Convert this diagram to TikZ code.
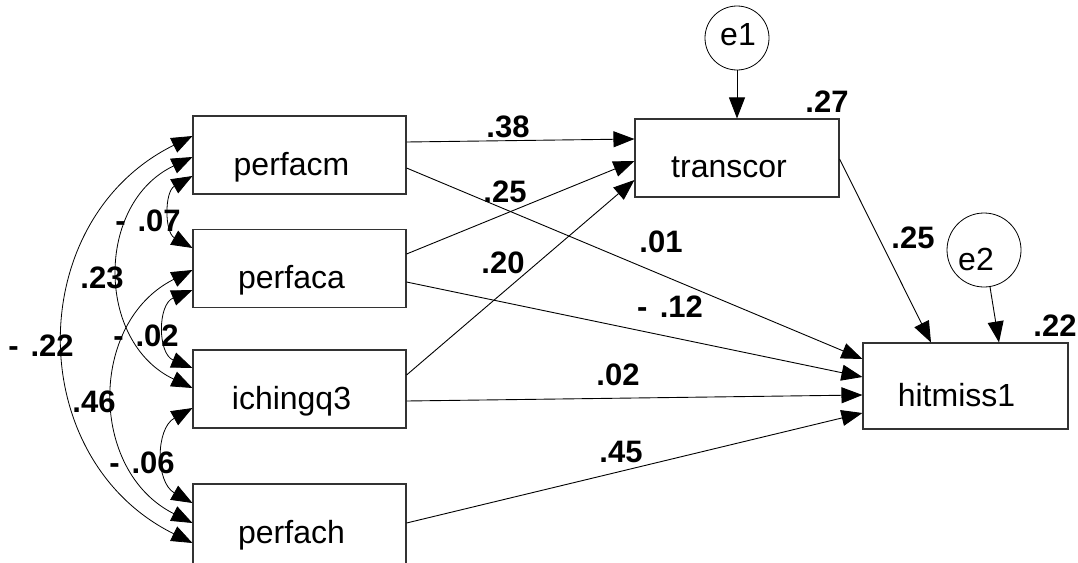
\documentclass[tikz,border=0pt]{standalone}
\usepackage{fontspec}
\setmainfont{Liberation Sans}
\usetikzlibrary{arrows.meta,calc}
\begin{document}
\begin{tikzpicture}[x=1pt,y=-1pt,
  box/.style={draw=black!80,line width=1.1pt,minimum width=213pt,minimum height=78pt,inner sep=0pt},
  err/.style={circle,draw=black,line width=0.8pt,inner sep=0pt},
  vname/.style={anchor=base,inner sep=0pt,font=\fontsize{32}{36}\selectfont},
  coef/.style={inner sep=0pt,font=\fontsize{31}{35}\selectfont\bfseries},
  arr/.style={-{Triangle[length=21pt,width=16pt]},line width=0.9pt},
  cov/.style={{Triangle[length=21pt,width=16pt]}-{Triangle[length=21pt,width=16pt]},line width=0.8pt}]
\useasboundingbox (0,0) rectangle (1078,562);

% observed variables
\node[box] (perfacm) at (299.5,155) {};
\node[box] (perfaca) at (299.5,268.5) {};
\node[box] (ichingq3) at (299.5,389) {};
\node[box,minimum height=80pt] (perfach) at (299.5,524) {};
\node[box,minimum width=204pt] (transcor) at (737,158) {};
\node[box,minimum width=205pt,minimum height=86pt] (hitmiss1) at (965.5,386) {};

\node[vname] (perfacmT) at ($(perfacm.center)+(-8,20)$) {perfacm};
\node[vname] (perfacaT) at ($(perfaca.center)+(-8,20)$) {perfaca};
\node[vname] (ichingq3T) at ($(ichingq3.center)+(-8,20)$) {ichingq3};
\node[vname] (perfachT) at ($(perfach.center)+(-8,19)$) {perfach};
\node[vname] (transcorT) at ($(transcor.center)+(-8,19)$) {transcor};
\node[vname] (hitmiss1T) at ($(hitmiss1.center)+(-9,20)$) {hitmiss1};

% error terms
\node[err,minimum size=64pt] (e1) at (737,38) {};
\node[err,minimum size=74pt] (e2) at (984,250) {};
\node[vname] (e1T) at ($(e1.center)+(1,7)$) {e1};
\node[vname] (e2T) at ($(e2.center)+(-8,20)$) {e2};

% regression paths
\draw[arr] (e1.south) -- (transcor.north);
\draw[arr] (e2) -- ($(hitmiss1.north)+(33.5,0)$);
\draw[arr] ($(transcor.east)+(0,1)$) -- ($(hitmiss1.north)+(-34.5,0)$);
\draw[arr] ($(perfacm.east)+(0,-13)$) -- ($(transcor.west)+(0,-19)$);
\draw[arr] ($(perfacm.east)+(0,13)$) -- ($(hitmiss1.west)+(0,-27)$);
\draw[arr] ($(perfaca.east)+(0,-14.5)$) -- ($(transcor.west)+(0,3)$);
\draw[arr] ($(perfaca.east)+(0,13.5)$) -- ($(hitmiss1.west)+(0,-9)$);
\draw[arr] ($(ichingq3.east)+(0,-14)$) -- ($(transcor.west)+(0,22)$);
\draw[arr] ($(ichingq3.east)+(0,12)$) -- ($(hitmiss1.west)+(0,9)$);
\draw[arr] ($(perfach.east)+(0,-1)$) -- ($(hitmiss1.west)+(0,27)$);

% covariances
\draw[cov] ($(perfacm.west)+(0,21)$) .. controls +(-28,15.8) and +(-28,-15.8) .. ($(perfaca.west)+(0,-20.5)$);
\draw[cov] ($(perfacm.west)+(0,2)$) .. controls +(-97,46) and +(-97,-46) .. ($(ichingq3.west)+(0,-1)$);
\draw[cov] ($(perfacm.west)+(0,-19)$) .. controls +(-170,84) and +(-170,-84) .. ($(perfach.west)+(0,19)$);
\draw[cov] ($(perfaca.west)+(0,21.5)$) .. controls +(-35,14.4) and +(-35,-14.4) .. ($(ichingq3.west)+(0,-21)$);
\draw[cov] ($(perfaca.west)+(0,1.5)$) .. controls +(-104,52) and +(-104,-52) .. ($(perfach.west)+(0,-1)$);
\draw[cov] ($(ichingq3.west)+(0,19)$) .. controls +(-37,20.7) and +(-37,-20.7) .. ($(perfach.west)+(0,-21)$);

% coefficients
\node[coef] (c1) at (148,221) {-\hspace{0.38em}.07};
\node[coef] (c2) at (102,278) {.23};
\node[coef] (c3) at (41,346) {-\hspace{0.38em}.22};
\node[coef] (c4) at (146,336) {-\hspace{0.38em}.02};
\node[coef] (c5) at (94,402) {.46};
\node[coef] (c6) at (142,463) {-\hspace{0.38em}.06};
\node[coef] (c7) at (508,127) {.38};
\node[coef] (c8) at (505,192) {.25};
\node[coef] (c9) at (503,263) {.20};
\node[coef] (c10) at (661,242) {.01};
\node[coef] (c11) at (670,307) {-\hspace{0.4em}.12};
\node[coef] (c12) at (618,375) {.02};
\node[coef] (c13) at (621,452) {.45};
\node[coef] (c14) at (913,238) {.25};
\node[coef] (c15) at (827,102) {.27};
\node[coef] (c16) at (1055,326) {.22};
\end{tikzpicture}
\end{document}
